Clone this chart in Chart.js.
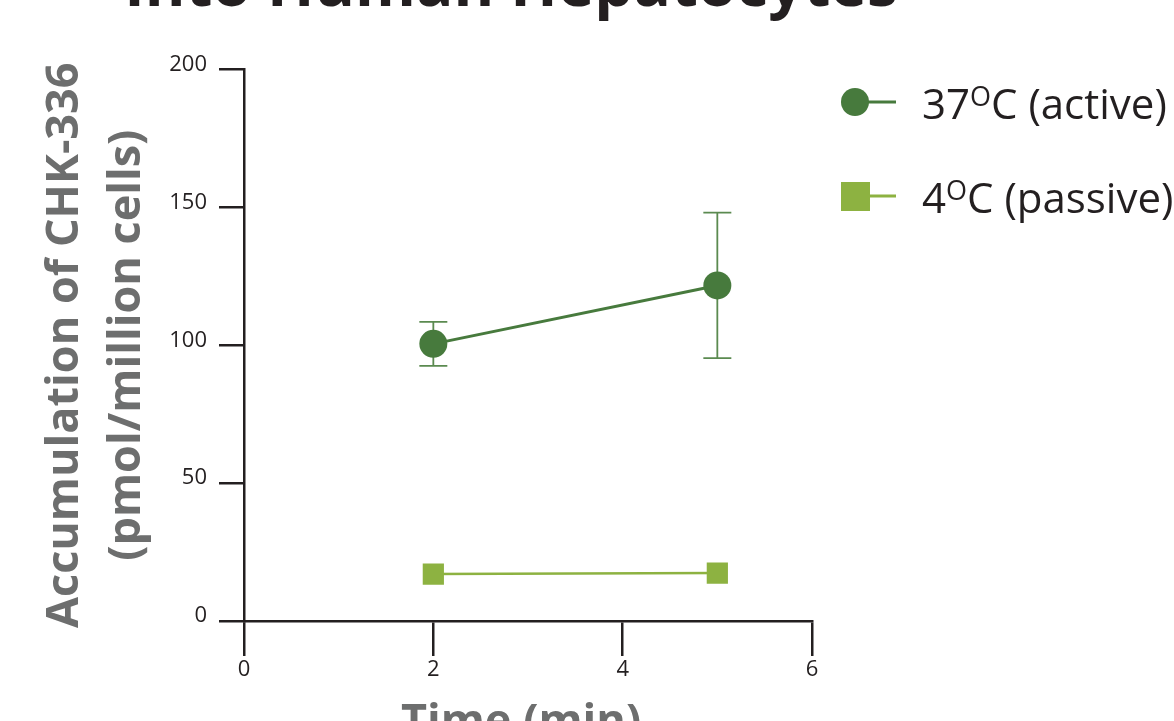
<!DOCTYPE html>
<html>
<head>
<meta charset="utf-8">
<script src="https://cdn.jsdelivr.net/npm/chart.js@4"></script>
<style>
  html, body { margin: 0; padding: 0; background: #ffffff; }
  canvas { display: block; }
</style>
</head>
<body>
<canvas id="c" width="1174" height="721"></canvas>
<script>
// ---- data ----
const times = [2, 5];
const activeMean = [100.5, 121.7];
const activeErr = [8.0, 26.4];
const passiveMean = [17.0, 17.4];
const seriesNames = ['37', '4'];
const seriesSuffix = ['C (active)', 'C (passive)'];
const xTicks = [0, 2, 4, 6];
const yTicks = [0, 50, 100, 150, 200];
const titleText = 'Into Human Hepatocytes';
const yTitleLines = ['Accumulation of CHK-336', '(pmol/million cells)'];
const xTitleText = 'Time (min)';

const activeColor = '#477a3d';
const passiveColor = '#8db241';
const inkColor = '#231f20';
const titleGray = '#6d6e6e';

const activeErrLow = activeMean.map((v, i) => v - activeErr[i]);
const activeErrHigh = activeMean.map((v, i) => v + activeErr[i]);

const errorBarPlugin = {
  id: 'errorBars',
  beforeDatasetsDraw(chart) {
    const ctx = chart.ctx;
    const xs = chart.scales.x, ys = chart.scales.y;
    ctx.save();
    ctx.strokeStyle = '#5b8a50';
    ctx.lineWidth = 1.8;
    times.forEach((t, i) => {
      const px = xs.getPixelForValue(t);
      const lo = ys.getPixelForValue(activeErrLow[i]);
      const hi = ys.getPixelForValue(activeErrHigh[i]);
      const cap = 14;
      ctx.beginPath();
      ctx.moveTo(px, lo); ctx.lineTo(px, hi);
      ctx.moveTo(px - cap, lo); ctx.lineTo(px + cap, lo);
      ctx.moveTo(px - cap, hi); ctx.lineTo(px + cap, hi);
      ctx.stroke();
    });
    ctx.restore();
  }
};

const textPlugin = {
  id: 'texts',
  afterDraw(chart) {
    const ctx = chart.ctx;
    const area = chart.chartArea;
    ctx.save();
    // Title (cut off at top)
    ctx.fillStyle = inkColor;
    ctx.font = 'bold 62px "Open Sans"';
    ctx.textAlign = 'center';
    ctx.textBaseline = 'alphabetic';
    ctx.fillText(titleText, 511, 6);

    // Y axis title (rotated)
    ctx.fillStyle = titleGray;
    ctx.font = 'bold 45px "Open Sans"';
    const cy = (area.top + area.bottom) / 2;
    ctx.save();
    ctx.translate(78, cy);
    ctx.rotate(-Math.PI / 2);
    ctx.textAlign = 'center';
    ctx.fillText(yTitleLines[0], 0, 0);
    ctx.restore();
    ctx.save();
    ctx.translate(140, cy);
    ctx.rotate(-Math.PI / 2);
    ctx.textAlign = 'center';
    ctx.fillText(yTitleLines[1], 0, 0);
    ctx.restore();

    // X axis title
    ctx.textAlign = 'center';
    ctx.textBaseline = 'top';
    ctx.fillText(xTitleText, 521, 701);

    // Legend
    const rows = [
      { y: 102, color: activeColor, shape: 'circle' },
      { y: 196, color: passiveColor, shape: 'rect' }
    ];
    rows.forEach((r, i) => {
      ctx.strokeStyle = r.color;
      ctx.lineWidth = 3;
      ctx.beginPath();
      ctx.moveTo(855, r.y); ctx.lineTo(896, r.y);
      ctx.stroke();
      ctx.fillStyle = r.color;
      if (r.shape === 'circle') {
        ctx.beginPath();
        ctx.arc(855, r.y, 14, 0, Math.PI * 2);
        ctx.fill();
      } else {
        ctx.fillRect(841, r.y - 14, 29, 29);
      }
      ctx.fillStyle = inkColor;
      ctx.textAlign = 'left';
      ctx.textBaseline = 'alphabetic';
      const base = r.y + 17;
      let x = 922;
      ctx.font = '42px "Open Sans"';
      ctx.fillText(seriesNames[i], x, base);
      x += ctx.measureText(seriesNames[i]).width;
      ctx.font = '27px "Open Sans"';
      ctx.fillText('O', x, base - 13);
      x += ctx.measureText('O').width;
      ctx.font = '42px "Open Sans"';
      ctx.fillText(seriesSuffix[i], x, base);
    });
    ctx.restore();
  }
};

new Chart(document.getElementById('c'), {
  type: 'line',
  data: {
    datasets: [
      {
        label: '37C (active)',
        data: times.map((t, i) => ({ x: t, y: activeMean[i] })),
        borderColor: activeColor,
        backgroundColor: activeColor,
        borderWidth: 3,
        pointRadius: 14,
        pointHoverRadius: 14,
        pointBorderWidth: 0,
        pointStyle: 'circle'
      },
      {
        label: '4C (passive)',
        data: times.map((t, i) => ({ x: t, y: passiveMean[i] })),
        borderColor: passiveColor,
        backgroundColor: passiveColor,
        borderWidth: 2.5,
        pointRadius: 15,
        pointHoverRadius: 15,
        pointBorderWidth: 0,
        pointStyle: 'rect'
      }
    ]
  },
  options: {
    responsive: false,
    animation: false,
    events: [],
    layout: { padding: { left: 0, top: 69.5, right: 362, bottom: 0 } },
    plugins: { legend: { display: false }, tooltip: { enabled: false }, title: { display: false } },
    scales: {
      x: {
        type: 'linear',
        min: 0, max: 6,
        afterBuildTicks(s) { s.ticks = xTicks.map(v => ({ value: v })); },
        afterFit(s) { s.height = 100; },
        border: { display: true, color: inkColor, width: 2.5 },
        grid: { display: true, drawOnChartArea: false, drawTicks: true, tickLength: 35, color: inkColor, lineWidth: 2.5 },
        ticks: { color: inkColor, font: { family: 'Open Sans', size: 22 }, padding: 1 }
      },
      y: {
        min: 0, max: 200,
        afterBuildTicks(s) { s.ticks = yTicks.map(v => ({ value: v })); },
        afterFit(s) { s.width = 244; },
        border: { display: true, color: inkColor, width: 2.5 },
        grid: { display: true, drawOnChartArea: false, drawTicks: true, tickLength: 25, color: inkColor, lineWidth: 2.5 },
        ticks: { color: inkColor, font: { family: 'Open Sans', size: 22 }, padding: 12, labelOffset: -5 }
      }
    }
  },
  plugins: [errorBarPlugin, textPlugin]
});
</script>
</body>
</html>
